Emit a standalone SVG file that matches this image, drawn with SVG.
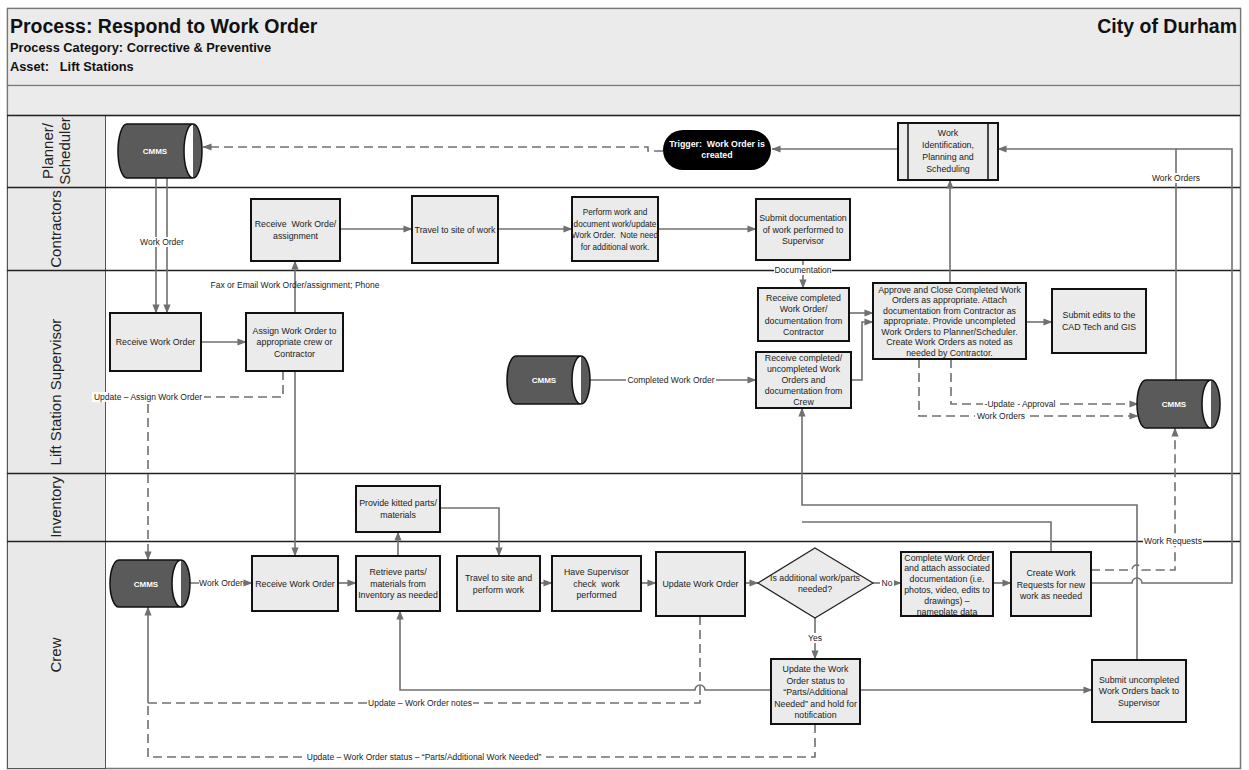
<svg xmlns="http://www.w3.org/2000/svg" width="1249" height="770" viewBox="0 0 1249 770">
<style>
.frame{fill:#fff;stroke:#777;stroke-width:1.5}
.hdr{fill:#ebebeb;stroke:#777;stroke-width:1.2}
.lanecol{fill:#e9e9e9;stroke:#555;stroke-width:1}
.laneline{stroke:#222;stroke-width:1.3}
.lanetxt{font-family:"Liberation Sans",Arial,sans-serif;font-size:15px;fill:#222;text-anchor:middle}
.box{fill:#ebebeb;stroke:#111;stroke-width:2}
.t{font-family:"Liberation Sans",Arial,sans-serif;font-size:8.8px;fill:#222;text-anchor:middle}
.ts{font-size:8.2px}
.db{fill:#5a5a5a;stroke:#111;stroke-width:1.5}
.dbt{font-family:"Liberation Sans",Arial,sans-serif;font-size:8px;font-weight:bold;fill:#fff;text-anchor:middle}
.c{fill:none;stroke:#707070;stroke-width:1.6}
.d{fill:none;stroke:#707070;stroke-width:1.6;stroke-dasharray:9 5}
.lbl{font-family:"Liberation Sans",Arial,sans-serif;font-size:8.5px;fill:#222;text-anchor:middle}
.lb{fill:#fff}
.h1{font-family:"Liberation Sans",Arial,sans-serif;font-size:19.5px;font-weight:bold;fill:#111}
.h2{font-family:"Liberation Sans",Arial,sans-serif;font-size:12.8px;font-weight:bold;fill:#111}
</style>
<defs>
<marker id="ah" viewBox="0 0 10 10" refX="9.5" refY="5" markerWidth="9" markerHeight="9" markerUnits="userSpaceOnUse" orient="auto">
<path d="M0,1 L10,5 L0,9 z" fill="#707070"/>
</marker>
</defs>

<!-- frame and header -->
<rect class="frame" x="7.5" y="8.5" width="1233" height="760"/>
<rect class="hdr" x="7.5" y="8.5" width="1233" height="77"/>
<rect class="hdr" x="7.5" y="85.5" width="1233" height="30"/>
<text class="h1" x="10" y="33">Process: Respond to Work Order</text>
<text class="h2" x="10" y="52">Process Category: Corrective &amp; Preventive</text>
<text class="h2" x="10" y="71" xml:space="preserve">Asset:   Lift Stations</text>
<text class="h1" x="1237" y="33" text-anchor="end">City of Durham</text>

<!-- lanes -->
<g id="lanes">
<rect class="lanecol" x="7.5" y="115.5" width="98" height="653"/>
<line class="laneline" x1="7" y1="115.5" x2="1240" y2="115.5"/>
<line class="laneline" x1="7" y1="187.5" x2="1240" y2="187.5"/>
<line class="laneline" x1="7" y1="270.5" x2="1240" y2="270.5"/>
<line class="laneline" x1="7" y1="473.5" x2="1240" y2="473.5"/>
<line class="laneline" x1="7" y1="541.5" x2="1240" y2="541.5"/>
<text class="lanetxt" transform="translate(56,151) rotate(-90)"><tspan x="0" y="-3">Planner/</tspan><tspan x="0" y="14">Scheduler</tspan></text>
<text class="lanetxt" transform="translate(56,229) rotate(-90)"><tspan x="0" y="5">Contractors</tspan></text>
<text class="lanetxt" transform="translate(56,392) rotate(-90)"><tspan x="0" y="5">Lift Station Supervisor</tspan></text>
<text class="lanetxt" transform="translate(56,507) rotate(-90)"><tspan x="0" y="5">Inventory</tspan></text>
<text class="lanetxt" transform="translate(56,655) rotate(-90)"><tspan x="0" y="5">Crew</tspan></text>
</g>

<!-- connectors -->
<g id="connectors">
<path class="c" d="M898,149 H772" marker-end="url(#ah)"/>
<path class="d" d="M663,151 H648 V147 H203" marker-end="url(#ah)"/>
<path class="c" d="M156,178 V313" marker-end="url(#ah)"/>
<path class="c" d="M167,178 V313" marker-end="url(#ah)"/>
<path class="c" d="M201,342 H246" marker-end="url(#ah)"/>
<path class="c" d="M295,313 V261" marker-end="url(#ah)"/>
<path class="c" d="M295,371 V556" marker-end="url(#ah)"/>
<path class="d" d="M283,371 V397 H148 V560" marker-end="url(#ah)"/>
<path class="c" d="M340,229 H412" marker-end="url(#ah)"/>
<path class="c" d="M498,229 H572" marker-end="url(#ah)"/>
<path class="c" d="M658,229 H756" marker-end="url(#ah)"/>
<path class="c" d="M803,260 V288" marker-end="url(#ah)"/>
<path class="c" d="M950,283 V180" marker-end="url(#ah)"/>
<path class="c" d="M849,313 H873" marker-end="url(#ah)"/>
<path class="c" d="M851,380 H862 V322 H873" marker-end="url(#ah)"/>
<path class="c" d="M1026,322 H1052" marker-end="url(#ah)"/>
<path class="c" d="M590,380 H756" marker-end="url(#ah)"/>
<path class="d" d="M951,359 V404 H1138" marker-end="url(#ah)"/>
<path class="d" d="M919,359 V416 H1138" marker-end="url(#ah)"/>
<path class="c" d="M1176,380 V149 H998" marker-end="url(#ah)"/>
<path class="c" d="M1091,583 H1132 A5,5 0 0 1 1142,583 H1232 V149 H1176"/>
<path class="d" d="M1091,570 H1132 A5,5 0 0 1 1142,570 H1175 V428" marker-end="url(#ah)"/>
<path class="c" d="M190,583 H252" marker-end="url(#ah)"/>
<path class="c" d="M338,583 H356" marker-end="url(#ah)"/>
<path class="c" d="M398,556 V532" marker-end="url(#ah)"/>
<path class="c" d="M440,508 H499 V556" marker-end="url(#ah)"/>
<path class="c" d="M540,583 H552" marker-end="url(#ah)"/>
<path class="c" d="M641,583 H656" marker-end="url(#ah)"/>
<path class="c" d="M745,583 H758" marker-end="url(#ah)"/>
<path class="c" d="M873,583 H901" marker-end="url(#ah)"/>
<path class="c" d="M993,583 H1011" marker-end="url(#ah)"/>
<path class="c" d="M815,618 V659" marker-end="url(#ah)"/>
<path class="c" d="M860,690 H1092" marker-end="url(#ah)"/>
<path class="c" d="M1137,660 V505 H802 V408" marker-end="url(#ah)"/>
<path class="c" d="M1051,552 V522 H802"/>
<path class="c" d="M771,690 H705 A5,5 0 0 0 695,690 H400 V611" marker-end="url(#ah)"/>
<path class="d" d="M700,616 V703 H148"/>
<path class="c" d="M148,703 V607" marker-end="url(#ah)"/>
<path class="d" d="M815,724 V757 H148 V703"/>

<!-- connector labels -->
<rect class="lb" x="139" y="237" width="46" height="10"/>
<text class="lbl" x="162" y="245">Work Order</text>
<text class="lbl" x="295" y="288">Fax or Email Work Order/assignment; Phone</text>
<rect class="lb" x="92" y="392" width="112" height="10"/>
<text class="lbl" x="148" y="400">Update – Assign Work Order</text>
<rect class="lb" x="774" y="265" width="58" height="10"/>
<text class="lbl" x="803" y="273">Documentation</text>
<rect class="lb" x="626" y="375" width="90" height="10"/>
<text class="lbl" x="671" y="383">Completed Work Order</text>
<rect class="lb" x="983" y="399" width="74" height="10"/>
<text class="lbl" x="1020" y="407">-Update - Approval</text>
<rect class="lb" x="975" y="411" width="52" height="10"/>
<text class="lbl" x="1001" y="419">Work Orders</text>
<rect class="lb" x="1150" y="173" width="52" height="10"/>
<text class="lbl" x="1176" y="181">Work Orders</text>
<rect class="lb" x="1143" y="536" width="60" height="10"/>
<text class="lbl" x="1173" y="544">Work Requests</text>
<rect class="lb" x="199" y="578" width="44" height="10"/>
<text class="lbl" x="221" y="586">Work Order</text>
<rect class="lb" x="880" y="578" width="14" height="10"/>
<text class="lbl" x="887" y="586">No</text>
<rect class="lb" x="807" y="633" width="16" height="10"/>
<text class="lbl" x="815" y="641">Yes</text>
<rect class="lb" x="367" y="698" width="106" height="10"/>
<text class="lbl" x="420" y="706">Update – Work Order notes</text>
<rect class="lb" x="302" y="752" width="244" height="10"/>
<text class="lbl" x="424" y="760">Update – Work Order status – “Parts/Additional Work Needed”</text>
</g>

<!-- Planner/Scheduler -->
<g id="cmms_planner">
<path class="db" d="M127,124 H193 A9,27 0 0 1 193,178 H127 A9,27 0 0 1 127,124 Z M193,124 A9,27 0 0 0 193,178"/>
<text class="dbt" x="155" y="154">CMMS</text>
</g>
<g id="trigger">
<rect x="663" y="130" width="108" height="40" rx="20" fill="#000"/>
<text class="t" font-weight="bold" style="fill:#fff"><tspan x="717" y="147" xml:space="preserve">Trigger:  Work Order is</tspan><tspan x="717" y="158">created</tspan></text>
</g>
<g id="work_identification">
<rect class="box" x="898" y="123" width="100" height="57"/>
<line x1="908" y1="123" x2="908" y2="180" stroke="#111" stroke-width="1.5"/>
<line x1="988" y1="123" x2="988" y2="180" stroke="#111" stroke-width="1.5"/>
<text class="t"><tspan x="948" y="136">Work</tspan><tspan x="948" y="148">Identification,</tspan><tspan x="948" y="160">Planning and</tspan><tspan x="948" y="172">Scheduling</tspan></text>
</g>

<!-- Contractors -->
<g id="c_receive">
<rect class="box" x="251" y="199" width="89" height="62"/>
<text class="t" xml:space="preserve"><tspan x="295.5" y="227">Receive  Work Orde/</tspan><tspan x="295.5" y="238.5">assignment</tspan></text>
</g>
<g id="c_travel">
<rect class="box" x="412" y="196" width="86" height="67"/>
<text class="t"><tspan x="455" y="232.5">Travel to site of work</tspan></text>
</g>
<g id="c_perform">
<rect class="box" x="572" y="197" width="86" height="64"/>
<text class="t ts" xml:space="preserve"><tspan x="615" y="215">Perform work and</tspan><tspan x="615" y="226.5">document work/update</tspan><tspan x="615" y="238">Work Order.  Note need</tspan><tspan x="615" y="249.5">for additional work.</tspan></text>
</g>
<g id="c_submit">
<rect class="box" x="756" y="199" width="94" height="61"/>
<text class="t"><tspan x="803" y="221">Submit documentation</tspan><tspan x="803" y="232.5">of work performed to</tspan><tspan x="803" y="244">Supervisor</tspan></text>
</g>

<!-- Lift Station Supervisor -->
<g id="s_receive">
<rect class="box" x="110" y="313" width="91" height="58"/>
<text class="t"><tspan x="155.5" y="345">Receive Work Order</tspan></text>
</g>
<g id="s_assign">
<rect class="box" x="246" y="313" width="97" height="58"/>
<text class="t"><tspan x="294.5" y="333.5">Assign Work Order to</tspan><tspan x="294.5" y="345">appropriate crew or</tspan><tspan x="294.5" y="356.5">Contractor</tspan></text>
</g>
<g id="s_receive_contractor">
<rect class="box" x="758" y="288" width="91" height="53"/>
<text class="t"><tspan x="803.5" y="300.5">Receive completed</tspan><tspan x="803.5" y="312">Work Order/</tspan><tspan x="803.5" y="323.5">documentation from</tspan><tspan x="803.5" y="335">Contractor</tspan></text>
</g>
<g id="s_receive_crew">
<rect class="box" x="756" y="352" width="95" height="56"/>
<text class="t"><tspan x="803.5" y="361">Receive completed/</tspan><tspan x="803.5" y="372">uncompleted Work</tspan><tspan x="803.5" y="383">Orders and</tspan><tspan x="803.5" y="394">documentation from</tspan><tspan x="803.5" y="405">Crew</tspan></text>
</g>
<g id="s_approve">
<rect class="box" x="873" y="283" width="153" height="76"/>
<text class="t"><tspan x="949.5" y="292.5">Approve and Close Completed Work</tspan><tspan x="949.5" y="303">Orders as appropriate. Attach</tspan><tspan x="949.5" y="313.5">documentation from Contractor as</tspan><tspan x="949.5" y="324">appropriate. Provide uncompleted</tspan><tspan x="949.5" y="334.5">Work Orders to Planner/Scheduler.</tspan><tspan x="949.5" y="345">Create Work Orders as noted as</tspan><tspan x="949.5" y="355.5">needed by Contractor.</tspan></text>
</g>
<g id="s_cad">
<rect class="box" x="1052" y="289" width="94" height="64"/>
<text class="t"><tspan x="1099" y="318">Submit edits to the</tspan><tspan x="1099" y="329.5">CAD Tech and GIS</tspan></text>
</g>
<g id="cmms_supervisor_left">
<path class="db" d="M516,356 H581 A9,24 0 0 1 581,404 H516 A9,24 0 0 1 516,356 Z M581,356 A9,24 0 0 0 581,404"/>
<text class="dbt" x="544" y="383">CMMS</text>
</g>
<g id="cmms_supervisor_right">
<path class="db" d="M1146,380 H1211 A9,24 0 0 1 1211,428 H1146 A9,24 0 0 1 1146,380 Z M1211,380 A9,24 0 0 0 1211,428"/>
<text class="dbt" x="1174" y="407">CMMS</text>
</g>

<!-- Inventory -->
<g id="i_kitted">
<rect class="box" x="356" y="486" width="84" height="46"/>
<text class="t"><tspan x="398" y="506">Provide kitted parts/</tspan><tspan x="398" y="517.5">materials</tspan></text>
</g>

<!-- Crew -->
<g id="cmms_crew">
<path class="db" d="M119,560 H181 A9,23.5 0 0 1 181,607 H119 A9,23.5 0 0 1 119,560 Z M181,560 A9,23.5 0 0 0 181,607"/>
<text class="dbt" x="146" y="586.5">CMMS</text>
</g>
<g id="cr_receive">
<rect class="box" x="252" y="556" width="86" height="55"/>
<text class="t"><tspan x="295" y="586.5">Receive Work Order</tspan></text>
</g>
<g id="cr_retrieve">
<rect class="box" x="356" y="556" width="84" height="55"/>
<text class="t"><tspan x="398" y="575">Retrieve parts/</tspan><tspan x="398" y="586.5">materials from</tspan><tspan x="398" y="598">Inventory as needed</tspan></text>
</g>
<g id="cr_travel">
<rect class="box" x="457" y="556" width="83" height="55"/>
<text class="t"><tspan x="498.5" y="581">Travel to site and</tspan><tspan x="498.5" y="592.5">perform work</tspan></text>
</g>
<g id="cr_have">
<rect class="box" x="552" y="556" width="89" height="55"/>
<text class="t" xml:space="preserve"><tspan x="596.5" y="575">Have Supervisor</tspan><tspan x="596.5" y="586.5">check  work</tspan><tspan x="596.5" y="598">performed</tspan></text>
</g>
<g id="cr_update">
<rect class="box" x="656" y="552" width="89" height="64"/>
<text class="t"><tspan x="700.5" y="587">Update Work Order</tspan></text>
</g>
<g id="cr_decision">
<polygon points="758,583 815,548 873,583 815,618" fill="#ebebeb" stroke="#222" stroke-width="1.2"/>
<text class="t"><tspan x="815" y="580.5">Is additional work/parts</tspan><tspan x="815" y="592">needed?</tspan></text>
</g>
<g id="cr_complete">
<rect class="box" x="901" y="552" width="92" height="64"/>
<text class="t"><tspan x="947" y="560.5">Complete Work Order</tspan><tspan x="947" y="571.3">and attach associated</tspan><tspan x="947" y="582.1">documentation (i.e.</tspan><tspan x="947" y="592.9">photos, video, edits to</tspan><tspan x="947" y="603.7">drawings) –</tspan><tspan x="947" y="614.5">nameplate data</tspan></text>
</g>
<g id="cr_create">
<rect class="box" x="1011" y="552" width="80" height="64"/>
<text class="t"><tspan x="1051" y="576">Create Work</tspan><tspan x="1051" y="587.5">Requests for new</tspan><tspan x="1051" y="599">work as needed</tspan></text>
</g>
<g id="cr_update_status">
<rect class="box" x="771" y="659" width="89" height="65"/>
<text class="t"><tspan x="815.5" y="672">Update the Work</tspan><tspan x="815.5" y="683.5">Order status to</tspan><tspan x="815.5" y="695">“Parts/Additional</tspan><tspan x="815.5" y="706.5">Needed” and hold for</tspan><tspan x="815.5" y="718">notification</tspan></text>
</g>
<g id="cr_submit_uncompleted">
<rect class="box" x="1092" y="660" width="94" height="62"/>
<text class="t"><tspan x="1139" y="682.5">Submit uncompleted</tspan><tspan x="1139" y="694">Work Orders back to</tspan><tspan x="1139" y="705.5">Supervisor</tspan></text>
</g>
</svg>
